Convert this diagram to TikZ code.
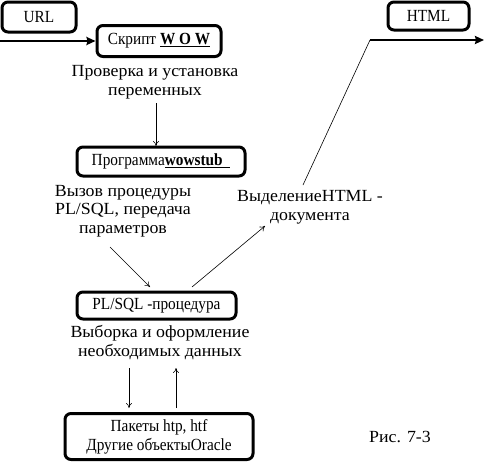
\documentclass[tikz,border=0pt]{standalone}
\usepackage{fontspec}
\setmainfont{Liberation Serif}[FakeStretch=1.05]
\newfontfamily\boxfont{Liberation Serif}[FakeStretch=0.9]
\usetikzlibrary{arrows.meta}
\begin{document}
\begin{tikzpicture}[x=1pt,y=-1pt,
  box/.style={draw,line width=3pt,rounded corners=6pt,inner sep=0pt,align=center,font=\boxfont\fontsize{17}{19}\selectfont},
  lbl/.style={inner sep=0pt,align=center,font=\fontsize{17}{18.5}\selectfont},
  thin/.style={line width=0.6pt,-{To[length=5pt,width=6pt]}},
  thick/.style={line width=2.6pt,-{Stealth[length=9pt,width=8pt,inset=1pt]}}]
\useasboundingbox (0,0) rectangle (484,461);
\node[box,minimum width=74pt,minimum height=30pt] (url) at (39,17) {URL};
\node[box,minimum width=124pt,minimum height=31pt] (wow) at (159,41) {Скрипт \underline{\textbf{W O W}}};
\node[box,minimum width=81pt,minimum height=28pt] (html) at (428.5,16) {HTML};
\node[box,minimum width=168pt,minimum height=29pt] (stub) at (161,161.5) {Программа\underline{\textbf{wowstub}\ \ }};
\node[box,minimum width=159pt,minimum height=27pt] (plsql) at (156.5,305.5) {PL/SQL -процедура};
\node[box,minimum width=188pt,minimum height=46pt] (pkg) at (159,436.5) {Пакеты htp, htf\\Другие объектыOracle};
\node[lbl] (t1) at (155,82) {Проверка и установка\\переменных};
\node[lbl] (t2) at (123,211) {Вызов процедуры\\PL/SQL, передача\\параметров};
\node[lbl] (t3) at (310,207.5) {ВыделениеHTML -\\документа};
\node[lbl] (t4) at (160,342.5) {Выборка и оформление\\необходимых данных};
\node[lbl] (fig) at (400,437) {Рис. 7-3};
\coordinate (in) at (0,41);
\coordinate (bend) at (370,40);
\coordinate (out) at (484,40);
\coordinate (a1) at (156,103);
\coordinate (a2) at (156,146);
\coordinate (b1) at (110,247);
\coordinate (b2) at (150,287);
\coordinate (c1) at (192,287);
\coordinate (c2) at (265,226);
\coordinate (d1) at (303,185);
\coordinate (e1) at (129,368);
\coordinate (e2) at (129,408);
\coordinate (f1) at (176,408);
\coordinate (f2) at (176,368);
\draw[thick] (in) -- (wow.west);
\draw[line width=0.6pt] (d1) -- (bend);
\draw[thick] (bend) -- (out);
\draw[thin] (a1) -- (a2);
\draw[thin] (b1) -- (b2);
\draw[thin] (c1) -- (c2);
\draw[thin] (e1) -- (e2);
\draw[thin] (f1) -- (f2);
\end{tikzpicture}
\end{document}
